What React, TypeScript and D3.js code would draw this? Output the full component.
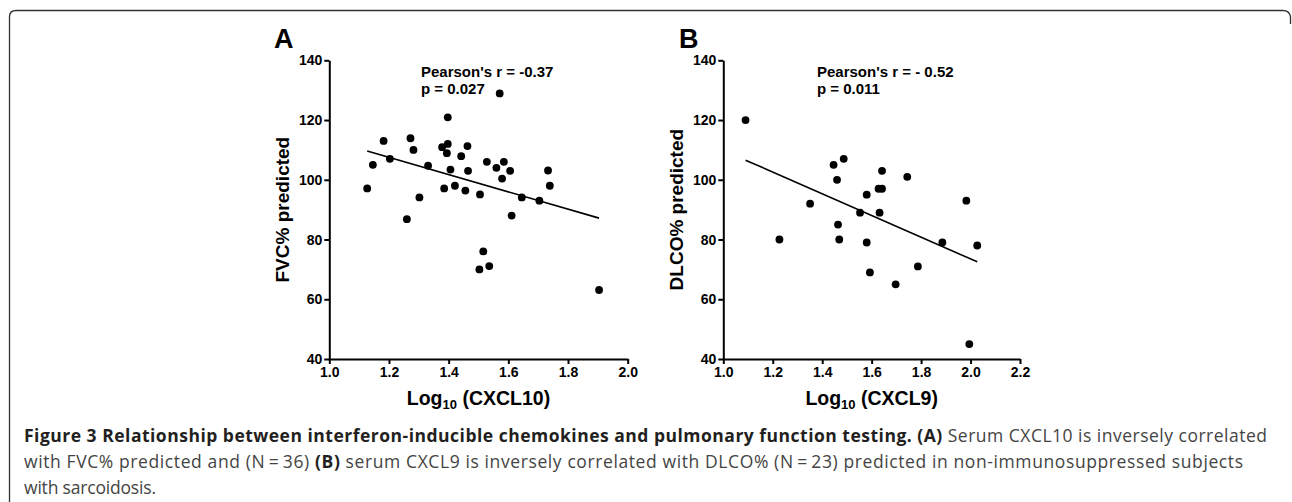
import React, { useEffect, useRef } from "react";
import * as d3 from "d3";

// Panel A: Log10(CXCL10) vs FVC% predicted
const cxcl10 = [1.127, 1.146, 1.182, 1.203, 1.26, 1.272, 1.282, 1.302, 1.331, 1.378, 1.385, 1.397, 1.397, 1.394, 1.406, 1.421, 1.442, 1.456, 1.463, 1.465, 1.505, 1.503, 1.516, 1.536, 1.528, 1.56, 1.571, 1.579, 1.585, 1.606, 1.611, 1.645, 1.704, 1.733, 1.739, 1.904];
const fvc = [97.1, 105, 113, 107, 86.8, 113.9, 110, 94.1, 104.7, 110.9, 97.1, 120.9, 112, 108.9, 103.4, 98, 107.9, 96.4, 111.3, 103, 95.1, 70, 76, 71.1, 106, 104, 128.9, 100.4, 106, 103, 88, 94.1, 93, 103.1, 98, 63.1];

// Panel B: Log10(CXCL9) vs DLCO% predicted
const cxcl9 = [1.09, 1.227, 1.351, 1.446, 1.46, 1.487, 1.464, 1.469, 1.553, 1.58, 1.58, 1.593, 1.628, 1.642, 1.642, 1.632, 1.697, 1.744, 1.787, 1.886, 1.983, 1.995, 2.027];
const dlco = [120, 80, 92, 105, 100, 107, 85, 80, 89, 95, 79, 69, 97, 97, 103, 89, 65, 101, 71, 79, 93, 45, 78];

const xTicksA = [1.0, 1.2, 1.4, 1.6, 1.8, 2.0];
const xTicksB = [1.0, 1.2, 1.4, 1.6, 1.8, 2.0, 2.2];
const yTicks = [40, 60, 80, 100, 120, 140];

const statsA = ["Pearson's r = -0.37", "p = 0.027"];
const statsB = ["Pearson's r = - 0.52", "p = 0.011"];

function regress(xs: number[], ys: number[]) {
  const mx = d3.mean(xs)!;
  const my = d3.mean(ys)!;
  let sxy = 0, sxx = 0;
  xs.forEach((x, i) => {
    sxy += (x - mx) * (ys[i] - my);
    sxx += (x - mx) * (x - mx);
  });
  const b = sxy / sxx;
  const a = my - b * mx;
  const [x0, x1] = d3.extent(xs) as [number, number];
  return [[x0, a + b * x0], [x1, a + b * x1]];
}

const FONT = "Arial, 'Liberation Sans', sans-serif";

export default function App() {
  const ref = useRef<SVGSVGElement>(null);

  useEffect(() => {
    const svg = d3.select(ref.current);
    svg.selectAll("*").remove();

    // frame
    svg.append("path")
      .attr("d", "M9.5,502 V17 Q9.5,10.5 16,10.5 H1283 Q1289.5,10.5 1290.5,17 V24")
      .attr("fill", "none").attr("stroke", "#333").attr("stroke-width", 1.3);

    const panels = [
      { xs: cxcl10, ys: fvc, xd: [1.0, 2.0], xr: [329.3, 627.7], xt: xTicksA, letter: "A", letterX: 274,
        ylab: "FVC% predicted", ylabX: 289, xlabSub: "10", xlabMain: " (CXCL10)", stats: statsA, statsX: 421 },
      { xs: cxcl9, ys: dlco, xd: [1.0, 2.2], xr: [723.3, 1020], xt: xTicksB, letter: "B", letterX: 679,
        ylab: "DLCO% predicted", ylabX: 683, xlabSub: "10", xlabMain: " (CXCL9)", stats: statsB, statsX: 817 },
    ];

    panels.forEach((p) => {
      const x = d3.scaleLinear().domain(p.xd).range(p.xr);
      const y = d3.scaleLinear().domain([40, 140]).range([359, 60.3]);
      const g = svg.append("g");

      const ax = g.append("g").attr("transform", `translate(0,${y(40)})`)
        .call(d3.axisBottom(x).tickValues(p.xt).tickFormat(d3.format(".1f")).tickSize(5).tickSizeOuter(0).tickPadding(3));
      const ay = g.append("g").attr("transform", `translate(${x(p.xd[0])},0)`)
        .call(d3.axisLeft(y).tickValues(yTicks).tickSize(5).tickSizeOuter(0).tickPadding(2));
      [ax, ay].forEach((a) => {
        a.select(".domain").attr("stroke", "#000").attr("stroke-width", 2);
        a.selectAll(".tick line").attr("stroke", "#000").attr("stroke-width", 2);
        a.selectAll(".tick text").attr("font-family", FONT).attr("font-weight", "bold")
          .attr("font-size", 14).attr("fill", "#000");
      });

      // regression line
      const fit = regress(p.xs, p.ys);
      g.append("path")
        .attr("d", d3.line<number[]>().x((d) => x(d[0])).y((d) => y(d[1]))(fit))
        .attr("stroke", "#000").attr("stroke-width", 1.6).attr("fill", "none");

      // points
      g.selectAll("circle.pt").data(p.xs).join("circle")
        .attr("cx", (d) => x(d)).attr("cy", (_d, i) => y(p.ys[i]))
        .attr("r", 3.9).attr("fill", "#000");

      // panel letter
      g.append("text").attr("x", p.letterX).attr("y", 48).text(p.letter)
        .attr("font-family", FONT).attr("font-weight", "bold").attr("font-size", 27);

      // stats
      p.stats.forEach((s, i) => {
        g.append("text").attr("x", p.statsX).attr("y", 77 + i * 17).text(s)
          .attr("font-family", FONT).attr("font-weight", "bold").attr("font-size", 15);
      });

      // y label
      const cy = (y(40) + y(140)) / 2;
      g.append("text").attr("transform", `translate(${p.ylabX},${cy}) rotate(-90)`)
        .attr("text-anchor", "middle").text(p.ylab)
        .attr("font-family", FONT).attr("font-weight", "bold").attr("font-size", 19);

      // x label
      const cx = (p.xr[0] + p.xr[1]) / 2;
      const xl = g.append("text").attr("x", cx).attr("y", 405).attr("text-anchor", "middle")
        .attr("font-family", FONT).attr("font-weight", "bold").attr("font-size", 19.5);
      xl.append("tspan").text("Log");
      xl.append("tspan").attr("font-size", 13).attr("dy", 4).text(p.xlabSub);
      xl.append("tspan").attr("dy", -4).text(p.xlabMain);
    });

    // caption
    const cap = svg.append("g").attr("font-family", "'Open Sans', sans-serif").attr("font-size", 17.5);
    const bold = "#231f20", reg = "#444";
    const l1 = cap.append("text").attr("x", 24).attr("y", 442);
    l1.append("tspan").attr("font-weight", "bold").attr("fill", bold)
      .text("Figure 3 Relationship between interferon-inducible chemokines and pulmonary function testing. (A)");
    l1.append("tspan").attr("fill", reg).text(" Serum CXCL10 is inversely correlated");
    const l2 = cap.append("text").attr("x", 24).attr("y", 468);
    l2.append("tspan").attr("fill", reg).text("with FVC% predicted and (N\u2009=\u200936) ");
    l2.append("tspan").attr("font-weight", "bold").attr("fill", bold).text("(B)");
    l2.append("tspan").attr("fill", reg).text(" serum CXCL9 is inversely correlated with DLCO% (N\u2009=\u200923) predicted in non-immunosuppressed subjects");
    const l3 = cap.append("text").attr("x", 24).attr("y", 494).attr("fill", reg).text("with sarcoidosis.");

    // fit caption lines to the reference widths
    const targets: [d3.Selection<SVGTextElement, unknown, null, undefined>, number][] = [[l1, 1243], [l2, 1219], [l3, 132]];
    targets.forEach(([t, w]) => {
      const node = t.node()!;
      const n = (node.textContent || "").length;
      const cur = node.getComputedTextLength();
      if (n > 1) t.attr("letter-spacing", (w - cur) / (n - 1));
    });
  }, []);

  return (
    <svg ref={ref} width={1292} height={502}
      style={{ position: "absolute", left: 0, top: 0, background: "#fff" }} />
  );
}
